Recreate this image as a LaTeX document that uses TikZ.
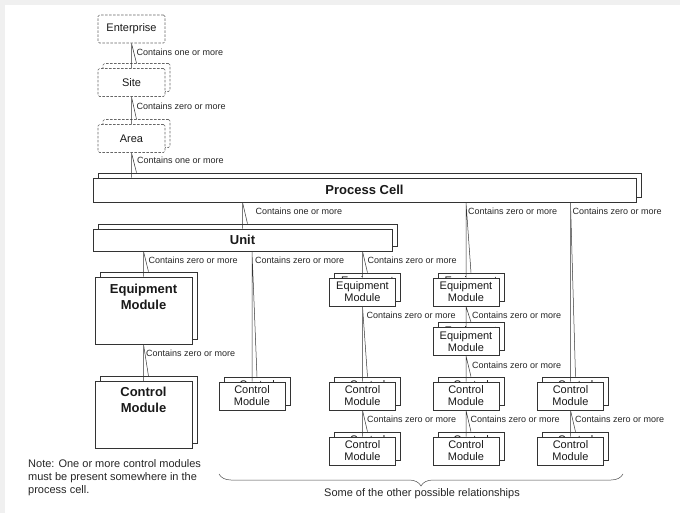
\documentclass[tikz,border=0pt]{standalone}
\usepackage{fontspec}
\setmainfont{Liberation Sans}
\usetikzlibrary{calc,positioning,decorations.pathreplacing}

\tikzset{
  module/.style={draw=black!80, fill=white, line width=0.6pt, align=center,
    inner sep=0pt, text=black!90, font=\fontsize{11}{12}\selectfont},
  small module/.style={module, minimum width=66pt, minimum height=28pt},
  big module/.style={module, minimum width=97pt, minimum height=67pt},
  big label/.style={align=center, inner sep=0pt, text=black!90,
    font=\fontsize{13}{16}\selectfont\bfseries},
  band/.style={module, font=\fontsize{13}{15}\selectfont\bfseries},
  site box/.style={small module, minimum width=67pt, draw=black!60,
    dash pattern=on 2.5pt off 1.5pt, rounded corners=1.5pt},
  link/.style={draw=black!80, line width=0.5pt},
  relation/.style={anchor=west, inner sep=0pt, text=black!85,
    font=\fontsize{9}{10}\selectfont},
  comment/.style={inner sep=0pt, text=black!85, font=\fontsize{11}{13}\selectfont}
}

% a module with a copy of itself behind it (optional text of the copy)
\newcommand{\stacked}[5][]{%
  \node[#2] (#3-back) at ($#4+(5,-5)$) {#1};
  \node[#2] (#3) at #4 {#5};
}

% containment: one line to the front copy, one to the back copy
\newcommand{\contains}[4][5]{%
  \draw[link] (#2.south -| #3.north) -- (#3.north)
              (#2.south -| #3.north) -- (#3-back.north);
  \node[relation] (#3-rel) at ($(#2.south -| #3.north)+(#1,9)$) {#4};
}

\begin{document}
\begin{tikzpicture}[x=1pt,y=-1pt]

  \fill[black!6] (0,0) rectangle (680,513);
  \fill[white] (5,5) rectangle (680,513);
  \useasboundingbox (0,0) rectangle (680,513);

  % enterprise, site, area
  \node[site box] (enterprise) at (131.5,29) {Enterprise};
  \stacked{site box}{site}{(131.5,82.5)}{Site}
  \stacked{site box}{area}{(131.5,138.5)}{Area}

  % process cell and unit
  \stacked{band, minimum width=543pt, minimum height=24pt}{cell}{(364.5,190)}{Process Cell}
  \stacked{band, minimum width=299pt, minimum height=22pt}{unit}{(242.5,240)}{Unit}

  % the big modules on the left
  \stacked{big module}{equip}{(143.5,310.5)}{}
  \node[big label] (equip-text) at ($(equip.north)+(0,20)$) {Equipment\\Module};
  \stacked{big module}{ctrl}{(143.5,415)}{}
  \node[big label] (ctrl-text) at ($(ctrl.north)+(0,19)$) {Control\\Module};

  % other possible relationships
  \stacked[Equipment\\Module]{small module}{emB}{(362.5,292)}{Equipment\\Module}
  \stacked[Equipment\\Module]{small module}{emC}{(466,292)}{Equipment\\Module}
  \stacked[Equipment\\Module]{small module}{emD}{(466,341.5)}{Equipment\\Module}
  \foreach \n/\x in {A/252,B/362.5,C/466,D/570.5}
  {
    \stacked[Control\\Module]{small module}{cm\n}{(\x,396)}{Control\\Module}
  }
  \foreach \n/\x in {B/362.5,C/466,D/570.5}
  {
    \stacked[Control\\Module]{small module}{sub\n}{(\x,451)}{Control\\Module}
  }

  % connectors
  \contains{enterprise}{site}{Contains one or more}
  \contains{site}{area}{Contains zero or more}
  \draw[link] (area.south) -- (area.south |- cell.north)
              (area.south) -- ($(area.south |- cell-back.north)+(5,0)$);
  \node[relation] (cell-rel) at ($(area.south)+(5.5,7)$) {Contains one or more};
  \contains[13]{cell}{unit}{Contains one or more}
  \contains[2]{cell}{emC}{Contains zero or more}
  \contains[2]{cell}{cmD}{Contains zero or more}
  \contains{unit}{equip}{Contains zero or more}
  \contains[3]{unit}{cmA}{Contains zero or more}
  \contains{unit}{emB}{Contains zero or more}
  \contains[2.5]{equip}{ctrl}{Contains zero or more}
  \contains[4]{emB}{cmB}{Contains zero or more}
  \contains[6]{emC}{emD}{Contains zero or more}
  \contains[6]{emD}{cmC}{Contains zero or more}
  \foreach \n in {B,C,D}
  {
    \contains[4.5]{cm\n}{sub\n}{Contains zero or more}
  }

  % note and brace
  \node[comment, anchor=north west, align=left] (note) at (28,459)
    {Note: One or more control modules\\must be present somewhere in the\\process cell.};
  \coordinate (brace-left) at (219,474);
  \coordinate (brace-right) at (623,474);
  \draw[draw=black!70, line width=0.5pt, decorate,
    decoration={brace, mirror, amplitude=12pt}] (brace-left) -- (brace-right);
  \node[comment] (others) at (422,494) {Some of the other possible relationships};

\end{tikzpicture}
\end{document}
